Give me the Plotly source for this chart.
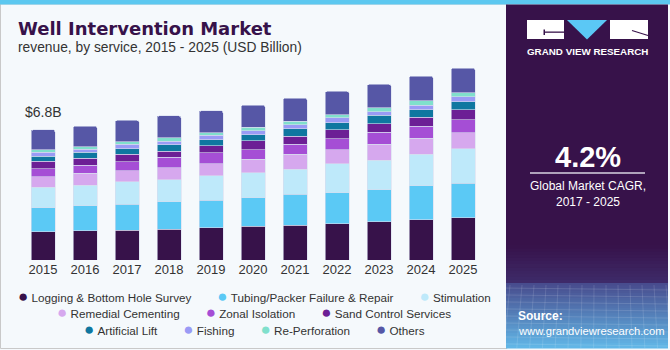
import plotly.graph_objects as go

# ---------------- data ----------------
years = ["2015", "2016", "2017", "2018", "2019", "2020", "2021", "2022", "2023", "2024", "2025"]

services = ["Logging & Bottom Hole Survey", "Tubing/Packer Failure & Repair", "Stimulation",
            "Remedial Cementing", "Zonal Isolation", "Sand Control Services",
            "Artificial Lift", "Fishing", "Re-Perforation", "Others"]

logging = [1.48, 1.53, 1.57, 1.62, 1.69, 1.78, 1.83, 1.90, 2.01, 2.11, 2.20]
tubing = [1.26, 1.31, 1.36, 1.43, 1.45, 1.48, 1.61, 1.61, 1.68, 1.78, 1.83]
stimulation = [1.07, 1.08, 1.17, 1.14, 1.26, 1.31, 1.32, 1.53, 1.54, 1.64, 1.80]
remedial = [0.56, 0.61, 0.58, 0.64, 0.63, 0.70, 0.77, 0.73, 0.84, 0.84, 0.84]
zonal = [0.42, 0.43, 0.47, 0.54, 0.59, 0.50, 0.54, 0.58, 0.61, 0.64, 0.68]
sand = [0.37, 0.38, 0.39, 0.33, 0.37, 0.47, 0.42, 0.46, 0.46, 0.47, 0.52]
artificial = [0.26, 0.31, 0.28, 0.33, 0.30, 0.31, 0.37, 0.38, 0.43, 0.38, 0.42]
fishing = [0.21, 0.14, 0.23, 0.19, 0.23, 0.21, 0.23, 0.25, 0.19, 0.23, 0.25]
reperf = [0.14, 0.14, 0.14, 0.17, 0.14, 0.18, 0.18, 0.17, 0.21, 0.24, 0.21]
others = [1.05, 1.08, 1.12, 1.15, 1.15, 1.17, 1.20, 1.22, 1.22, 1.29, 1.29]

series = [logging, tubing, stimulation, remedial, zonal, sand, artificial, fishing, reperf, others]

first_label = "$6.8B"
cagr_value = "4.2%"
cagr_text = "Global Market CAGR,<br>2017 - 2025"

# ---------------- styles ----------------
colors = ["#37124A", "#5BC9F5", "#BEE9FA", "#D6A8EE", "#A54ED5",
          "#6C1F95", "#0F77A0", "#9A9BF5", "#80E0CC", "#5657A6"]

W, H = 670, 350
PL, PR, PT, PB = 22, 484, 60, 260   # plot area in pixels
PX_PER_B = 19.1


def X(px):
    return (px - PL) / (PR - PL)


def Y(py):
    return (PB - py) / (PB - PT)


fig = go.Figure()
for name, vals, col in zip(services, series, colors):
    fig.add_trace(go.Bar(
        x=years, y=vals, name=name,
        marker=dict(color=col, line=dict(color="rgba(215,220,238,0.75)", width=0.8)),
        showlegend=False, hoverinfo="x+y+name",
    ))

totals = [sum(v) for v in zip(*series)]

shapes = []
annotations = []

# left panel frame and top stripe
shapes.append(dict(type="rect", xref="paper", yref="paper", x0=X(0.5), x1=X(507), y0=Y(4), y1=Y(348.5),
                   line=dict(color="#C9C9C9", width=1), fillcolor="rgba(0,0,0,0)", layer="below"))
shapes.append(dict(type="rect", xref="paper", yref="paper", x0=X(0), x1=X(670), y0=Y(0), y1=Y(4.5),
                   line=dict(width=0), fillcolor="#5CC8F0", layer="above"))

# right panel
panel_col = "#37124A"
shapes.append(dict(type="rect", xref="paper", yref="paper", x0=X(506), x1=X(668), y0=Y(4.5), y1=Y(348),
                   line=dict(width=0), fillcolor=panel_col, layer="above"))


def lerp(c1, c2, t):
    a = [int(c1[i:i + 2], 16) for i in (1, 3, 5)]
    b = [int(c2[i:i + 2], 16) for i in (1, 3, 5)]
    return "rgb(%d,%d,%d)" % tuple(round(a[k] + (b[k] - a[k]) * t) for k in range(3))


def gradient(y0, y1, c0, c1, steps):
    h = (y1 - y0) / steps
    for i in range(steps):
        shapes.append(dict(type="rect", xref="paper", yref="paper", x0=X(506), x1=X(668),
                           y0=Y(y0 + i * h), y1=Y(y0 + (i + 1) * h + 0.4),
                           line=dict(width=0), fillcolor=lerp(c0, c1, (i + 0.5) / steps), layer="above"))


gradient(245, 283, "#37124A", "#3E2B6A", 12)
gradient(283, 348, "#474A8C", "#62B8E8", 26)

# faint grid decoration at bottom
for k in range(9):
    yy = 288 + k * 7
    shapes.append(dict(type="line", xref="paper", yref="paper", x0=X(506), x1=X(668), y0=Y(yy), y1=Y(yy + 2),
                       line=dict(color="rgba(255,255,255,0.13)", width=1), layer="above"))
for k in range(14):
    xx = 510 + k * 12
    shapes.append(dict(type="line", xref="paper", yref="paper", x0=X(xx), x1=X(xx - 6 + k * 0.8), y0=Y(285), y1=Y(348),
                       line=dict(color="rgba(255,255,255,0.12)", width=1), layer="above"))

# logo
shapes.append(dict(type="rect", xref="paper", yref="paper", x0=X(527), x1=X(564), y0=Y(20), y1=Y(39),
                   line=dict(width=0), fillcolor="white", layer="above"))
shapes.append(dict(type="path", xref="paper", yref="paper",
                   path="M %f,%f L %f,%f L %f,%f L %f,%f Z" % (X(545), Y(31.5), X(564), Y(31.5), X(564), Y(32.8), X(545), Y(32.8)),
                   line=dict(width=0), fillcolor=panel_col, layer="above"))
shapes.append(dict(type="path", xref="paper", yref="paper",
                   path="M %f,%f L %f,%f L %f,%f L %f,%f Z" % (X(543.5), Y(29.5), X(545), Y(29.5), X(545), Y(35), X(543.5), Y(35)),
                   line=dict(width=0), fillcolor=panel_col, layer="above"))
shapes.append(dict(type="path", xref="paper", yref="paper",
                   path="M %f,%f L %f,%f L %f,%f Z" % (X(567), Y(20), X(607), Y(20), X(587), Y(39.5)),
                   line=dict(width=0), fillcolor="#5BC8F5", layer="above"))
shapes.append(dict(type="rect", xref="paper", yref="paper", x0=X(610), x1=X(648), y0=Y(20), y1=Y(39),
                   line=dict(width=0), fillcolor="white", layer="above"))
shapes.append(dict(type="line", xref="paper", yref="paper", x0=X(632), x1=X(648), y0=Y(30.5), y1=Y(35.5),
                   line=dict(color=panel_col, width=1.2), layer="above"))

# CAGR separator
shapes.append(dict(type="line", xref="paper", yref="paper", x0=X(530), x1=X(645), y0=Y(173), y1=Y(173),
                   line=dict(color="#D8D4E2", width=1.5), layer="above"))


def ann(px, py, text, size, color, family="Liberation Sans", bold=False, xanchor="left", yanchor="middle", align="left"):
    annotations.append(dict(xref="paper", yref="paper", x=X(px), y=Y(py), text=text, showarrow=False,
                            xanchor=xanchor, yanchor=yanchor, align=align,
                            font=dict(size=size, color=color, family=family,
                                      weight="bold" if bold else "normal")))


ann(16, 28, "Well Intervention Market", 18, "#37124A", family="DejaVu Sans", bold=True)
ann(16, 48, "revenue, by service, 2015 - 2025 (USD Billion)", 13.8, "#333333")
ann(587, 51, "GRAND VIEW RESEARCH", 9.8, "white", bold=True, xanchor="center")
ann(588, 157, cagr_value, 29, "white", bold=True, xanchor="center")
ann(588, 194, cagr_text, 12, "white", xanchor="center", align="center")
ann(516, 316, "Source:", 12, "white", bold=True)
ann(516, 331, "www.grandviewresearch.com", 11.2, "white")

# first bar total label, anchored to data (category index 0)
annotations.append(dict(x=0, y=totals[0], xref="x", yref="y", text=first_label, showarrow=False,
                        yanchor="bottom", yshift=8, font=dict(size=14, color="#333333", family="Liberation Sans")))

# legend rows (centered)
rows = [[0, 1, 2], [3, 4, 5], [6, 7, 8, 9]]
row_y = [296, 312.5, 329]
gap = "\u00a0" * 8
for r, yy in zip(rows, row_y):
    parts = ['<span style="color:%s;font-size:17px">\u25cf</span>\u00a0%s' % (colors[i], services[i]) for i in r]
    ann(254, yy, gap.join(parts), 11.7, "#333333", xanchor="center", align="center")

fig.update_layout(
    width=W, height=H, autosize=False,
    margin=dict(l=PL, r=W - PR, t=PT, b=H - PB, pad=0),
    paper_bgcolor="#F5F9FC", plot_bgcolor="#F5F9FC",
    barmode="stack", bargap=1 - 24 / 42, barcornerradius=2,
    font=dict(family="Liberation Sans", color="#333333"),
    xaxis=dict(type="category", categoryorder="array", categoryarray=years, range=[-0.5, len(years) - 0.5],
               showgrid=False, showline=False, zeroline=False, ticks="",
               tickfont=dict(size=13, color="#333333"), fixedrange=True),
    yaxis=dict(range=[0, (PB - PT) / PX_PER_B], visible=False, showgrid=False, zeroline=False, fixedrange=True),
    shapes=shapes, annotations=annotations, showlegend=False,
)

fig.write_html("out.html")
